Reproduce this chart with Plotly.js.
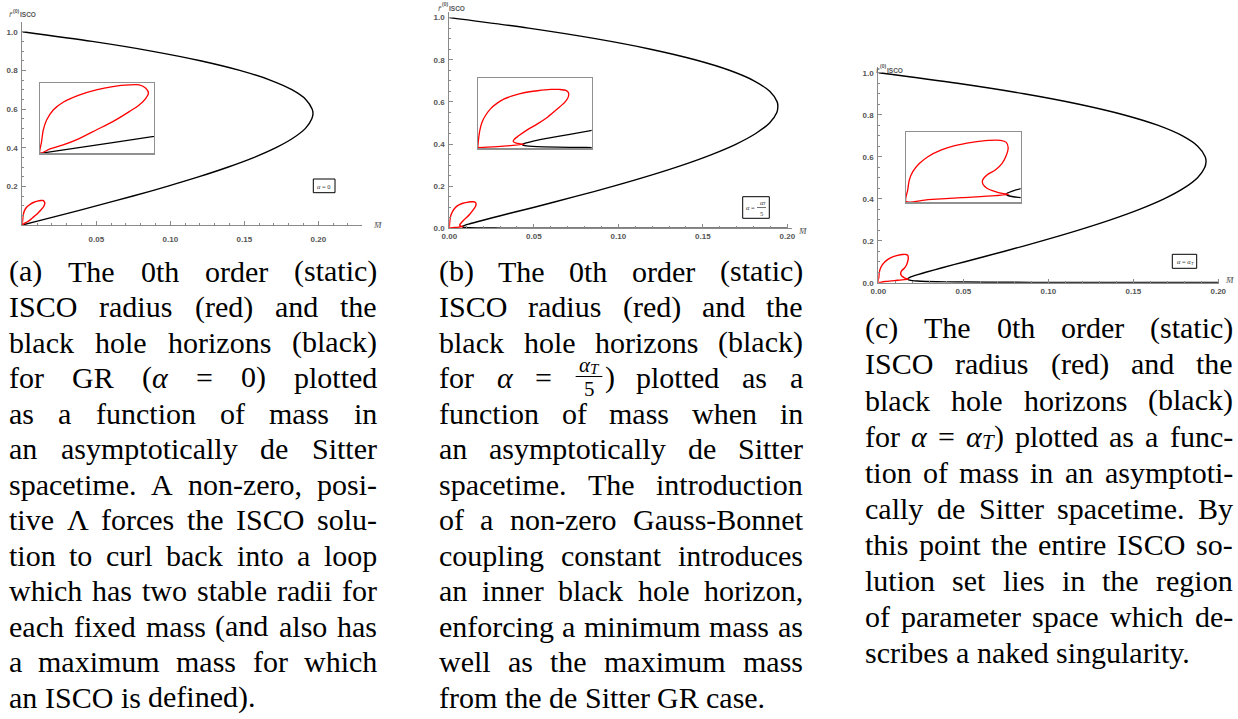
<!DOCTYPE html>
<html><head><meta charset="utf-8">
<script src="https://cdn.plot.ly/plotly-3.0.1.min.js"></script>
<style>html,body{margin:0;padding:0;background:#fff;overflow:hidden}#chart{width:1238px;height:719px}</style>
</head><body><div id="chart"></div>
<script>
// ---------- data ----------
// (a) alpha = 0 : horizon curve and ISCO loop
const blackA_M = [0, 0.0472, 0.0872, 0.1203, 0.1469, 0.1674, 0.1821, 0.1915, 0.1958, 0.1964, 0.1956, 0.1913, 0.1830, 0.1714, 0.1567, 0.1392, 0.1195, 0.0979, 0.0748, 0.0505, 0.0254, 0.0102, 0];
const blackA_r = [1.0, 0.95, 0.9, 0.85, 0.8, 0.75, 0.7, 0.65, 0.6, 0.577, 0.55, 0.5, 0.45, 0.4, 0.35, 0.3, 0.25, 0.2, 0.15, 0.1, 0.05, 0.02, 0.0];
const redA_M = [0, 0.00022, 0.00046, 0.00093, 0.00186, 0.00325, 0.00557, 0.00789, 0.01021, 0.01253, 0.01392, 0.01485, 0.01522, 0.01485, 0.01392, 0.01253, 0.01021, 0.00789, 0.00557, 0.00325, 0.00139, 0];
const redA_r = [0, 0.0217, 0.0433, 0.0619, 0.0805, 0.0948, 0.1083, 0.1177, 0.1238, 0.1269, 0.1269, 0.1208, 0.1114, 0.1022, 0.0897, 0.0774, 0.0588, 0.0433, 0.0278, 0.0155, 0.0081, 0];
// (b) alpha = alpha_T / 5
const blackB_M = [0.0000, 0.0469, 0.0864, 0.1191, 0.1454, 0.1657, 0.1803, 0.1896, 0.1940, 0.1944, 0.1938, 0.1895, 0.1813, 0.1698, 0.1552, 0.1380, 0.1185, 0.0972, 0.0742, 0.0503, 0.0353, 0.0255, 0.0160, 0.0115, 0.0095, 0.0080, 0.00775, 0.0080, 0.0095, 0.0115, 0.0160, 0.02075, 0.0305, 0.0603, 0.1000, 0.2000];
const blackB_r = [1.0, 0.95, 0.9, 0.85, 0.8, 0.75, 0.7, 0.65, 0.6, 0.577, 0.55, 0.5, 0.45, 0.4, 0.35, 0.3, 0.25, 0.2, 0.15, 0.1, 0.07, 0.05, 0.03, 0.02, 0.015, 0.01, 0.0077, 0.006, 0.004, 0.003, 0.002, 0.0015, 0.001, 0.0005, 0.0003, 0.00015];
const redB_M = [0, 0.00012, 0.00036, 0.00075, 0.00135, 0.00222, 0.00339, 0.00453, 0.0063, 0.00804, 0.01038, 0.01269, 0.01416, 0.01533, 0.01578, 0.01572, 0.01515, 0.01386, 0.01212, 0.01038, 0.00861, 0.00717, 0.0063, 0.00618, 0.00657, 0.00744, 0.00804, 0.0057, 0.00339, 0.00105, 0];
const redB_r = [0.001, 0.0165, 0.0379, 0.0559, 0.0701, 0.0844, 0.0966, 0.1052, 0.1131, 0.1188, 0.1231, 0.1259, 0.1259, 0.1238, 0.1181, 0.1095, 0.0988, 0.0844, 0.0666, 0.0522, 0.0394, 0.0272, 0.0186, 0.0143, 0.0115, 0.0094, 0.0086, 0.0057, 0.0036, 0.0021, 0.0014];
// (c) alpha = alpha_T
const blackC_M = [0.0002, 0.0465, 0.0857, 0.1181, 0.1442, 0.1643, 0.1787, 0.1879, 0.1923, 0.1928, 0.1921, 0.1878, 0.1797, 0.1684, 0.1540, 0.1370, 0.1178, 0.0968, 0.0743, 0.0510, 0.0370, 0.0279, 0.0237, 0.0200, 0.0185, 0.0175, 0.0173, 0.0175, 0.0185, 0.0200, 0.0228, 0.0280, 0.0395, 0.0515, 0.0760, 0.1008, 0.1505, 0.2004];
const blackC_r = [1.0, 0.95, 0.9, 0.85, 0.8, 0.75, 0.7, 0.65, 0.6, 0.577, 0.55, 0.5, 0.45, 0.4, 0.35, 0.3, 0.25, 0.2, 0.15, 0.1, 0.07, 0.05, 0.04, 0.03, 0.025, 0.02, 0.0173, 0.015, 0.012, 0.01, 0.008, 0.006, 0.004, 0.003, 0.002, 0.0015, 0.001, 0.00075];
const redC_M = [0, 0.0003, 0.00057, 0.00117, 0.00234, 0.00378, 0.00612, 0.00843, 0.01137, 0.01428, 0.01632, 0.01731, 0.01764, 0.01734, 0.01659, 0.01542, 0.01398, 0.01323, 0.01329, 0.01398, 0.01542, 0.01659, 0.01776, 0.01542, 0.0096, 0.00378, 0];
const redC_r = [0.0018, 0.0268, 0.0483, 0.0664, 0.0845, 0.0988, 0.1134, 0.1227, 0.1299, 0.1342, 0.1342, 0.1299, 0.1184, 0.1025, 0.0845, 0.0701, 0.0592, 0.0483, 0.039, 0.0303, 0.0231, 0.0194, 0.0173, 0.0144, 0.0101, 0.0058, 0.0018];

// tick labels
const xTicksA = [0.05, 0.10, 0.15, 0.20];
const xTicksBC = [0, 0.05, 0.10, 0.15, 0.20];
const yTicksA = [0.2, 0.4, 0.6, 0.8, 1.0];
const yTicksBC = [0, 0.2, 0.4, 0.6, 0.8, 1.0];

// captions ({A} = italic alpha, {AT} = alpha_T, {FRAC} = alpha_T over 5)
const capA = ["(a) The 0th order (static)", "ISCO radius (red) and the", "black hole horizons (black)", "for GR ({A} = 0) plotted", "as a function of mass in", "an asymptotically de Sitter", "spacetime. A non-zero, posi-", "tive Λ forces the ISCO solu-", "tion to curl back into a loop", "which has two stable radii for", "each fixed mass (and also has", "a maximum mass for which", "an ISCO is defined)."];
const capB = ["(b) The 0th order (static)", "ISCO radius (red) and the", "black hole horizons (black)", "for {A} = {FRAC}) plotted as a", "function of mass when in", "an asymptotically de Sitter", "spacetime. The introduction", "of a non-zero Gauss-Bonnet", "coupling constant introduces", "an inner black hole horizon,", "enforcing a minimum mass as", "well as the maximum mass", "from the de Sitter GR case."];
const capC = ["(c) The 0th order (static)", "ISCO radius (red) and the", "black hole horizons (black)", "for {A} = {AT}) plotted as a func-", "tion of mass in an asymptoti-", "cally de Sitter spacetime. By", "this point the entire ISCO so-", "lution set lies in the region", "of parameter space which de-", "scribes a naked singularity."];

// ---------- layout helpers ----------
const W = 1238, H = 719;
const X = p => p / W, Y = p => 1 - p / H;
const RED = '#ff0000', BLK = '#000000', AX = '#8a8a8a';
const SERIF = "'Liberation Serif', 'DejaVu Serif', serif";
const SANS = "'Liberation Sans', Arial, sans-serif";
const tickFont = {family: SANS, size: 8, color: '#555555', weight: 'bold'};

function line(x, y, xa, ya, color, w) {
  return {x: x, y: y, xaxis: xa, yaxis: ya, type: 'scatter', mode: 'lines',
    line: {color: color, width: w, shape: 'spline', smoothing: 0.8}, hoverinfo: 'skip', showlegend: false};
}
const traces = [
  line(blackA_M, blackA_r, 'x', 'y', BLK, 1.4), line(redA_M, redA_r, 'x', 'y', RED, 1.4),
  line(blackB_M, blackB_r, 'x2', 'y2', BLK, 1.4), line(redB_M, redB_r, 'x2', 'y2', RED, 1.4),
  line(blackC_M, blackC_r, 'x3', 'y3', BLK, 1.4), line(redC_M, redC_r, 'x3', 'y3', RED, 1.4),
  line(blackA_M, blackA_r, 'x4', 'y4', BLK, 1.3), line(redA_M, redA_r, 'x4', 'y4', RED, 1.3),
  line(blackB_M, blackB_r, 'x5', 'y5', BLK, 1.3), line(redB_M, redB_r, 'x5', 'y5', RED, 1.3),
  line(blackC_M, blackC_r, 'x6', 'y6', BLK, 1.3), line(redC_M, redC_r, 'x6', 'y6', RED, 1.3)
];

function mainX(dom, rng, vals, standoff) {
  return {domain: dom, range: rng, tickmode: 'array', tickvals: vals, ticktext: vals.map(v => v.toFixed(2)),
    ticks: 'inside', ticklen: 4, tickcolor: AX, tickwidth: 1, showline: true, linecolor: AX, linewidth: 1,
    showgrid: false, zeroline: false, tickfont: tickFont, ticklabelstandoff: standoff,
    minor: {tickmode: 'linear', tick0: 0, dtick: 0.01, ticks: 'inside', ticklen: 2, tickcolor: AX, showgrid: false}};
}
function mainY(dom, rng, vals) {
  return {domain: dom, range: rng, tickmode: 'array', tickvals: vals, ticktext: vals.map(v => v.toFixed(1)),
    ticks: 'inside', ticklen: 4, tickcolor: AX, tickwidth: 1, showline: true, linecolor: AX, linewidth: 1,
    showgrid: false, zeroline: false, tickfont: tickFont, ticklabelstandoff: 2,
    minor: {tickmode: 'linear', tick0: 0, dtick: 0.05, ticks: 'inside', ticklen: 2, tickcolor: AX, showgrid: false}};
}
function insetAx(dom, rng) {
  return {domain: dom, range: rng, showline: true, mirror: true, linecolor: '#909090', linewidth: 1.2,
    ticks: '', showticklabels: false, showgrid: false, zeroline: false};
}

const layout = {
  width: W, height: H, margin: {l: 0, r: 0, t: 0, b: 0}, paper_bgcolor: '#fff', plot_bgcolor: 'rgba(0,0,0,0)',
  showlegend: false,
  xaxis: Object.assign(mainX([X(22.3), X(361.7)], [0, 0.2293], xTicksA, 6), {anchor: 'y'}),
  yaxis: Object.assign(mainY([Y(225), Y(21.7)], [0, 1.052], yTicksA), {anchor: 'x'}),
  xaxis2: Object.assign(mainX([X(449.3), X(791.7)], [0, 0.2026], xTicksBC, 0), {anchor: 'y2'}),
  yaxis2: Object.assign(mainY([Y(228.3), Y(11.7)], [0, 1.028], yTicksBC), {anchor: 'x2'}),
  xaxis3: Object.assign(mainX([X(878.3), X(1219.3)], [0, 0.2006], xTicksBC, 1), {anchor: 'y3'}),
  yaxis3: Object.assign(mainY([Y(282.7), Y(66.7)], [0, 1.0286], yTicksBC), {anchor: 'x3'}),
  xaxis4: Object.assign(insetAx([X(40), X(154)], [0, 0.016]), {anchor: 'y4'}),
  yaxis4: Object.assign(insetAx([Y(153.3), Y(83.3)], [0, 0.13]), {anchor: 'x4'}),
  xaxis5: Object.assign(insetAx([X(477.7), X(591.7)], [0, 0.0198]), {anchor: 'y5'}),
  yaxis5: Object.assign(insetAx([Y(148.3), Y(77.7)], [0, 0.151]), {anchor: 'x5'}),
  xaxis6: Object.assign(insetAx([X(906), X(1020.7)], [0, 0.0198]), {anchor: 'y6'}),
  yaxis6: Object.assign(insetAx([Y(202.3), Y(131.7)], [0, 0.153]), {anchor: 'x6'}),
  annotations: [], shapes: []
};

const A = layout.annotations, S = layout.shapes;
const cv = document.createElement('canvas').getContext('2d');
function ann(text, px, py, font, opts) {
  A.push(Object.assign({text: text, x: X(px), y: Y(py), xref: 'paper', yref: 'paper', showarrow: false,
    xanchor: 'left', yanchor: 'middle', borderpad: 0, font: font}, opts || {}));
}
function sf(size, color) { return {family: SERIF, size: size, color: color || '#000'}; }
function mw(txt, size, italic, fam) { cv.font = (italic ? 'italic ' : '') + size + 'px ' + (fam || SERIF); return cv.measureText(txt).width; }

// axis labels  r̄ (0) ISCO
const axLabF = {family: SANS, size: 6.5, color: '#555', weight: 'bold'};
[[8, 14], [437, 7.5], [875, 69.5]].forEach(p => {
  ann('<i>r̄</i>', p[0], p[1], sf(8.5, '#555'));
  ann('(0)', p[0] + 4, p[1] - 3.5, {family: SANS, size: 5, color: '#555', weight: 'bold'});
  ann('ISCO', p[0] + 11, p[1] + 1, axLabF);
});
[[372, 225], [797, 231], [1224, 280]].forEach(p => ann('<i>M̄</i>', p[0], p[1], sf(9, '#555')));

// alpha label boxes
function box(x0, y0, x1, y1) { S.push({type: 'rect', xref: 'paper', yref: 'paper', x0: X(x0), x1: X(x1), y0: Y(y1), y1: Y(y0), line: {color: '#000', width: 1}, fillcolor: '#fff'}); }
box(313.3, 179, 335, 192.7);
ann('<i>α</i> = 0', 324.2, 186, sf(6.5, '#333'), {xanchor: 'center'});
box(742.7, 196.7, 769.3, 218.3);
ann('<i>α</i> =', 745, 207.5, sf(6.5, '#333'));
ann('<i>α</i>', 758.5, 202.5, sf(6.5, '#333'));
ann('<i>T</i>', 762.3, 204, sf(4.5, '#333'));
ann('5', 761.5, 213.2, sf(6.5, '#333'), {xanchor: 'center'});
S.push({type: 'line', xref: 'paper', yref: 'paper', x0: X(757), x1: X(766), y0: Y(207.5), y1: Y(207.5), line: {color: '#333', width: 0.7}});
box(1172.3, 254.3, 1196.7, 268.3);
(function () {
  const x0 = 1175.5, w = mw('α = α', 6.5, true);
  ann('<i>α</i> = <i>α</i>', x0, 261.3, sf(6.5, '#333'));
  ann('<i>T</i>', x0 + w + 0.3, 263, sf(4.5, '#333'));
})();

// captions (justified word by word)
const FS = 30, FSS = 21;
const aW = () => mw('α', FS, true);
const tW = () => mw('T', FSS, true);
function tokW(t) {
  let rest = t, w = 0;
  if (rest.indexOf('{FRAC}') >= 0) { w += aW() * 0.7 + tW() + 6; rest = rest.replace('{FRAC}', ''); }
  if (rest.indexOf('{AT}') >= 0) { w += aW() + tW(); rest = rest.replace('{AT}', ''); }
  if (rest.indexOf('{A}') >= 0) { w += aW(); rest = rest.replace('{A}', ''); }
  return w + (rest ? mw(rest, FS) : 0);
}
function drawTok(t, x, y) {
  if (t.indexOf('{FRAC}') >= 0) {
    const fw = aW() * 0.7 + tW() + 4;
    const na = mw('α', FSS, true);
    const nx = x + 2 + (fw - na - tW()) / 2;
    ann('<i>α</i>', nx, y - 12, sf(FSS));
    ann('<i>T</i>', nx + na, y - 9, sf(15));
    ann('5', x + 2 + fw / 2, y + 12, sf(FSS), {xanchor: 'center'});
    S.push({type: 'line', xref: 'paper', yref: 'paper', x0: X(x + 2), x1: X(x + 2 + fw), y0: Y(y - 1), y1: Y(y - 1), line: {color: '#000', width: 1}});
    ann(t.replace('{FRAC}', ''), x + fw + 4, y, sf(FS));
  } else if (t.indexOf('{AT}') >= 0) {
    ann('<i>α</i>', x, y, sf(FS));
    ann('<i>T</i>', x + aW(), y + 6, sf(FSS));
    const rest = t.replace('{AT}', '');
    if (rest) ann(rest, x + aW() + tW(), y, sf(FS));
  } else if (t.indexOf('{A}') >= 0) {
    const pre = t.slice(0, t.indexOf('{A}')), post = t.slice(t.indexOf('{A}') + 3);
    let xx = x;
    if (pre) { ann(pre, xx, y, sf(FS)); xx += mw(pre, FS); }
    ann('<i>α</i>', xx, y, sf(FS)); xx += aW();
    if (post) ann(post, xx, y, sf(FS));
  } else ann(t, x, y, sf(FS));
}
function caption(lines, x0, x1, y0, dy) {
  const sp = mw(' ', FS);
  lines.forEach((ln, i) => {
    const toks = ln.split(' ');
    const ws = toks.map(tokW);
    const tot = ws.reduce((a, b) => a + b, 0);
    const last = i === lines.length - 1;
    const gap = (last || toks.length < 2) ? sp : (x1 - x0 - tot) / (toks.length - 1);
    let x = x0; const y = y0 + i * dy;
    toks.forEach((t, j) => { drawTok(t, x, y); x += ws[j] + gap; });
  });
}
caption(capA, 8, 376, 271, 35.5);
caption(capB, 438, 802, 271, 35.5);
caption(capC, 864, 1232, 328, 36);

Plotly.newPlot('chart', traces, layout, {staticPlot: true, displayModeBar: false});
</script></body></html>
